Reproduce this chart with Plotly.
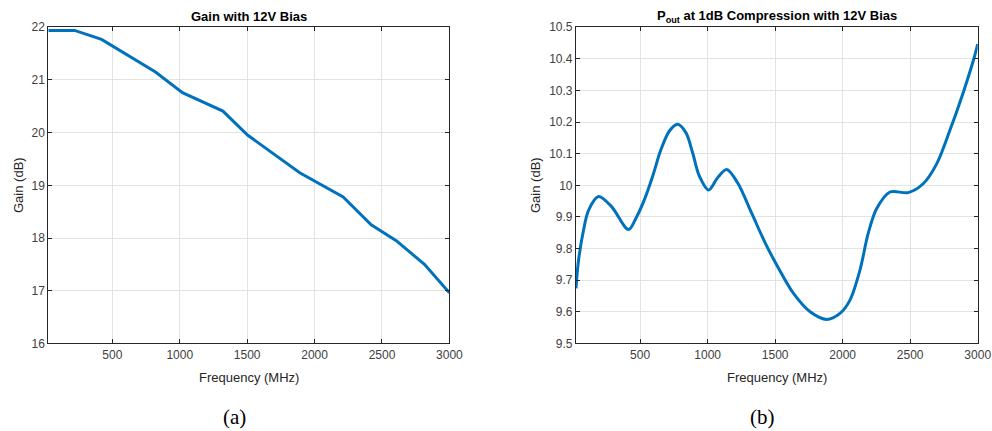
import plotly.graph_objects as go

# Gain measured with 12 V bias
gain_freq = [25, 220, 420, 820, 1020, 1320, 1505, 1890, 2212, 2420, 2606, 2815, 3000]
gain_db = [21.94, 21.94, 21.77, 21.15, 20.76, 20.41, 19.95, 19.24, 18.78, 18.25, 17.95, 17.50, 16.96]

# Output power at 1 dB compression with 12 V bias
p1db_freq = [25, 44, 81, 118, 192, 290, 414, 470, 532, 593, 655, 717, 778, 840, 889, 939,
             1007, 1074, 1141, 1222, 1327, 1426, 1512, 1636, 1759, 1882, 1980, 2054, 2128,
             2189, 2251, 2350, 2485, 2596, 2696, 2794, 2893, 2967, 3000]
p1db_db = [9.674, 9.763, 9.858, 9.921, 9.965, 9.932, 9.860, 9.897, 9.955, 10.029, 10.114,
           10.172, 10.193, 10.166, 10.103, 10.029, 9.985, 10.024, 10.050, 10.008, 9.911,
           9.818, 9.748, 9.658, 9.600, 9.576, 9.595, 9.637, 9.732, 9.848, 9.926, 9.979,
           9.977, 10.005, 10.068, 10.174, 10.294, 10.394, 10.447]

x_ticks = [500, 1000, 1500, 2000, 2500, 3000]
gain_ticks = [16, 17, 18, 19, 20, 21, 22]
p1db_ticks = [9.5, 9.6, 9.7, 9.8, 9.9, 10.0, 10.1, 10.2, 10.3, 10.4, 10.5]
p1db_ticktext = ["9.5", "9.6", "9.7", "9.8", "9.9", "10", "10.1", "10.2", "10.3", "10.4", "10.5"]

LINE = "#0072BD"
AX = "#262626"
GRID = "#e3e3e3"
FONT = "Liberation Sans, Arial, sans-serif"

fig = go.Figure()
fig.add_trace(go.Scatter(x=gain_freq, y=gain_db, mode="lines",
                         line=dict(color=LINE, width=3), xaxis="x", yaxis="y"))
fig.add_trace(go.Scatter(x=p1db_freq, y=p1db_db, mode="lines",
                         line=dict(color=LINE, width=3, shape="spline", smoothing=0.9),
                         xaxis="x2", yaxis="y2"))

ydom = [0.2032, 0.9367]
common_x = dict(range=[25, 3000], tickvals=x_ticks, showgrid=True, gridcolor=GRID,
                showline=True, linecolor=AX, linewidth=1, mirror="ticks",
                ticks="inside", ticklen=4, tickcolor=AX, zeroline=False,
                tickfont=dict(family=FONT, size=12, color="#404040"))
common_y = dict(showgrid=True, gridcolor=GRID, showline=True, linecolor=AX, linewidth=1,
                mirror="ticks", ticks="inside", ticklen=4, tickcolor=AX, zeroline=False,
                tickfont=dict(family=FONT, size=12, color="#404040"))

fig.update_layout(
    width=992, height=431, autosize=False,
    margin=dict(l=0, r=0, t=0, b=0, autoexpand=False),
    paper_bgcolor="white", plot_bgcolor="white",
    showlegend=False,
    xaxis=dict(domain=[0.0487, 0.4530], anchor="y", **common_x),
    yaxis=dict(domain=ydom, anchor="x", range=[16, 22], tickvals=gain_ticks, **common_y),
    xaxis2=dict(domain=[0.5806, 0.9856], anchor="y2", **common_x),
    yaxis2=dict(domain=ydom, anchor="x2", range=[9.5, 10.5], tickvals=p1db_ticks,
                ticktext=p1db_ticktext, **common_y),
)

def label(text, x, y, size, angle=0, bold=False, family=FONT, color="#262626"):
    fig.add_annotation(text=f"<b>{text}</b>" if bold else text, x=x, y=y,
                       xref="paper", yref="paper", xanchor="center", yanchor="middle",
                       showarrow=False, textangle=angle,
                       font=dict(family=family, size=size, color=color))

H = 431.0
W = 992.0
label("Gain with 12V Bias", 249 / W, 1 - 16 / H, 13, bold=True, color="black")
label("P<sub>out</sub> at 1dB Compression with 12V Bias", 777 / W, 1 - 16 / H, 13,
      bold=True, color="black")
label("Frequency (MHz)", 249 / W, 1 - 377 / H, 13)
label("Frequency (MHz)", 777 / W, 1 - 377 / H, 13)
label("Gain (dB)", 18 / W, 1 - 185 / H, 13, angle=-90)
label("Gain (dB)", 535 / W, 1 - 185 / H, 13, angle=-90)
label("(a)", 234 / W, 1 - 417 / H, 21, family="Liberation Serif, Times New Roman, serif",
      color="black")
label("(b)", 762 / W, 1 - 417 / H, 21, family="Liberation Serif, Times New Roman, serif",
      color="black")

# keep the page exactly the size of the figure (no body margin, no scrollbars)
page_fit = """
var st = document.createElement('style');
st.textContent = 'html,body{margin:0!important;padding:0!important;overflow:hidden!important}';
document.head.appendChild(st);
var gd = document.getElementById('{plot_id}');
Plotly.relayout(gd, {width: 992, height: 431});
"""

fig.write_html("out.html", config={"responsive": False}, post_script=page_fit)
